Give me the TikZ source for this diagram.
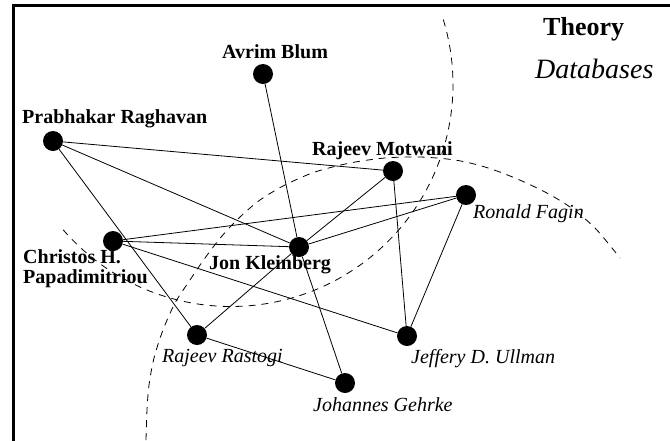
\documentclass[tikz,border=0pt]{standalone}
\usepackage{fontspec}
\setmainfont{Liberation Serif}
\begin{document}
\begin{tikzpicture}[x=1pt,y=-1pt,
  dot/.style={circle,fill=black,minimum size=20pt,inner sep=0pt},
  bl/.style={font=\fontsize{20}{20}\selectfont\bfseries, inner sep=0pt, anchor=base west},
  it/.style={font=\fontsize{20}{20}\selectfont\itshape, inner sep=0pt, anchor=base west},
  edge/.style={line width=0.8pt},
  region/.style={line width=0.8pt, dash pattern=on 7pt off 6pt},
  frame/.style={line width=3pt, line join=miter}]
\useasboundingbox (0,0) rectangle (670,440);
\fill[white] (0,0) rectangle (670,440);
\draw[frame] (13.5,450) -- (13.5,5.5) -- (680,5.5);

% region boundaries
\draw[region] plot[domain=-17:140.7, samples=120] ({231+222*cos(\x)},{84.5+222*sin(\x)});
\draw[region] plot[smooth] coordinates {(146,440) (147,410) (149,385) (154,358) (163,330) (175,303) (190,280) (205,258) (222,236) (240,217) (260,200) (285,185) (315,172) (350,163) (385,158) (420,157) (455,160) (485,167) (515,178) (545,192) (570,207) (595,228) (620,258)};

% nodes
\node[dot] (avrim) at (263,74) {};
\node[dot] (prab) at (53,141) {};
\node[dot] (motw) at (393,171) {};
\node[dot] (fagin) at (466,195) {};
\node[dot] (chris) at (113,241) {};
\node[dot] (jon) at (299,247) {};
\node[dot] (rast) at (197,335) {};
\node[dot] (gehrke) at (345,383) {};
\node[dot] (ullman) at (407,336) {};

% edges
\draw[edge] (avrim) -- (jon);
\draw[edge] (jon) -- (gehrke);
\draw[edge] (prab) -- (motw);
\draw[edge] (prab) -- (jon);
\draw[edge] (prab) -- (rast);
\draw[edge] (motw) -- (jon);
\draw[edge] (motw) -- (ullman);
\draw[edge] (fagin) -- (chris);
\draw[edge] (fagin) -- (jon);
\draw[edge] (fagin) -- (ullman);
\draw[edge] (chris) -- (jon);
\draw[edge] (chris) -- (ullman);
\draw[edge] (jon) -- (rast);
\draw[edge] (rast) -- (gehrke);

% labels
\node[bl] (lavrim) at (222,58) {Avrim Blum};
\node[bl] (lprab) at (22,123) {Prabhakar Raghavan};
\node[bl] (lmotw) at (312,155) {Rajeev Motwani};
\node[it] (lfagin) at (473,218) {Ronald Fagin};
\node[bl, align=left] (lchris) at (23,283) {Christos H.\\Papadimitriou};
\node[bl] (ljon) at (209,269) {Jon Kleinberg};
\node[it] (lrast) at (162,362) {Rajeev Rastogi};
\node[it] (lgehrke) at (313,411) {Johannes Gehrke};
\node[it] (lullman) at (411,363) {Jeffery D.\ Ullman};
\node[bl, font=\fontsize{26}{26}\selectfont\bfseries] (ltheory) at (543,35) {Theory};
\node[it, font=\fontsize{28}{28}\selectfont\itshape] (ldb) at (535,78) {Databases};
\end{tikzpicture}
\end{document}
